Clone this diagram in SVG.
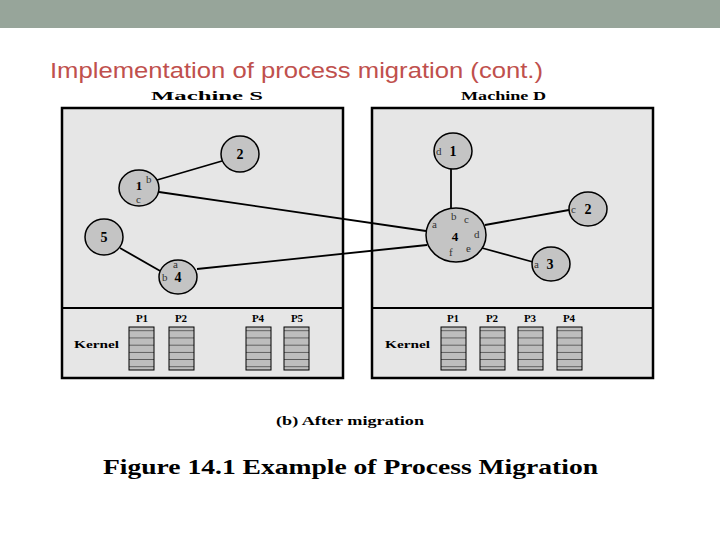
<svg xmlns="http://www.w3.org/2000/svg" width="720" height="540" viewBox="0 0 720 540">
<style>
.box{fill:#e6e6e6;stroke:#000;stroke-width:2.5}
.n{fill:#c4c4c4;stroke:#000;stroke-width:1.5}
.c line{stroke:#000;stroke-width:1.8}
.b{font-family:"Liberation Serif",serif;font-weight:bold;fill:#000}
.s{font-family:"Liberation Serif",serif;font-size:11px;fill:#333}
.st{fill:url(#stk);stroke:#000;stroke-width:1}
</style>
<defs>
<pattern id="stk" width="25" height="7.2" patternUnits="userSpaceOnUse">
<rect width="25" height="7.2" fill="#bdbdbd"/><line x1="0" y1="7.2" x2="25" y2="7.2" stroke="#000" stroke-width="1"/>
</pattern>
</defs>
<rect width="720" height="540" fill="#fff"/>
<rect width="720" height="28" fill="#97a59a"/>
<text x="50" y="78" font-family="Liberation Sans,sans-serif" font-size="22" fill="#c0504d" textLength="493" lengthAdjust="spacingAndGlyphs">Implementation of process migration (cont.)</text>
<text x="151" y="100" class="b" font-size="13" textLength="112" lengthAdjust="spacingAndGlyphs">Machine S</text>
<text x="461" y="100" class="b" font-size="13" textLength="85" lengthAdjust="spacingAndGlyphs">Machine D</text>
<rect class="box" x="62" y="108" width="281" height="270"/>
<line x1="62" y1="308" x2="343" y2="308" stroke="#000" stroke-width="2"/>
<rect class="box" x="372" y="108" width="281" height="270"/>
<line x1="372" y1="308" x2="653" y2="308" stroke="#000" stroke-width="2"/>
<g class="c" id="connectors">
<line x1="157" y1="180" x2="222" y2="161"/>
<line x1="159" y1="192" x2="426" y2="231"/>
<line x1="120" y1="248" x2="162" y2="272"/>
<line x1="197" y1="269" x2="427" y2="245"/>
<line x1="451" y1="169" x2="451" y2="208"/>
<line x1="485" y1="225" x2="569" y2="210"/>
<line x1="482" y1="248" x2="533" y2="262"/>
</g>
<g id="s2"><ellipse class="n" cx="240" cy="154" rx="19" ry="18"/><text class="b" x="240" y="159" font-size="14" text-anchor="middle">2</text></g>
<g id="s1"><ellipse class="n" cx="139" cy="188" rx="20" ry="18"/><text class="b" x="139" y="190" font-size="13" text-anchor="middle">1</text><text class="s" x="146" y="183">b</text><text class="s" x="136" y="203" font-size="10">c</text></g>
<g id="s5"><ellipse class="n" cx="104" cy="237" rx="19" ry="18"/><text class="b" x="104" y="242" font-size="14" text-anchor="middle">5</text></g>
<g id="s4"><ellipse class="n" cx="178" cy="277" rx="19" ry="17"/><text class="b" x="178" y="282" font-size="14" text-anchor="middle">4</text><text class="s" x="173" y="268">a</text><text class="s" x="162" y="281">b</text></g>
<g id="d4"><ellipse class="n" cx="456" cy="235" rx="30" ry="27"/><text class="b" x="455" y="241" font-size="13" text-anchor="middle">4</text><text class="s" x="432" y="228">a</text><text class="s" x="451" y="220">b</text><text class="s" x="464" y="223">c</text><text class="s" x="474" y="238">d</text><text class="s" x="466" y="252">e</text><text class="s" x="449" y="256">f</text></g>
<g id="d1"><ellipse class="n" cx="453" cy="151" rx="19" ry="18"/><text class="s" x="436" y="155">d</text><text class="b" x="453" y="156" font-size="14" text-anchor="middle">1</text></g>
<g id="d2"><ellipse class="n" cx="588" cy="209" rx="19" ry="17"/><text class="s" x="571" y="213">c</text><text class="b" x="588" y="214" font-size="14" text-anchor="middle">2</text></g>
<g id="d3"><ellipse class="n" cx="551" cy="264" rx="19" ry="17"/><text class="s" x="534" y="268">a</text><text class="b" x="550" y="269" font-size="14" text-anchor="middle">3</text></g>
<g id="kernelS">
<text class="b" x="74" y="348" font-size="11" textLength="45" lengthAdjust="spacingAndGlyphs">Kernel</text>
<text class="b" x="142" y="322" font-size="11" text-anchor="middle">P1</text>
<text class="b" x="181" y="322" font-size="11" text-anchor="middle">P2</text>
<text class="b" x="258" y="322" font-size="11" text-anchor="middle">P4</text>
<text class="b" x="297" y="322" font-size="11" text-anchor="middle">P5</text>
<rect class="st" x="129" y="327" width="25" height="43"/>
<rect class="st" x="169" y="327" width="25" height="43"/>
<rect class="st" x="246" y="327" width="25" height="43"/>
<rect class="st" x="284" y="327" width="25" height="43"/>
</g>
<g id="kernelD">
<text class="b" x="385" y="348" font-size="11" textLength="45" lengthAdjust="spacingAndGlyphs">Kernel</text>
<text class="b" x="453" y="322" font-size="11" text-anchor="middle">P1</text>
<text class="b" x="492" y="322" font-size="11" text-anchor="middle">P2</text>
<text class="b" x="530" y="322" font-size="11" text-anchor="middle">P3</text>
<text class="b" x="569" y="322" font-size="11" text-anchor="middle">P4</text>
<rect class="st" x="441" y="327" width="25" height="43"/>
<rect class="st" x="480" y="327" width="25" height="43"/>
<rect class="st" x="518" y="327" width="25" height="43"/>
<rect class="st" x="557" y="327" width="25" height="43"/>
</g>
<text class="b" x="276" y="425" font-size="13" textLength="148" lengthAdjust="spacingAndGlyphs">(b) After migration</text>
<text class="b" x="103" y="474" font-size="21" textLength="495" lengthAdjust="spacingAndGlyphs">Figure 14.1  Example of Process Migration</text>
</svg>
